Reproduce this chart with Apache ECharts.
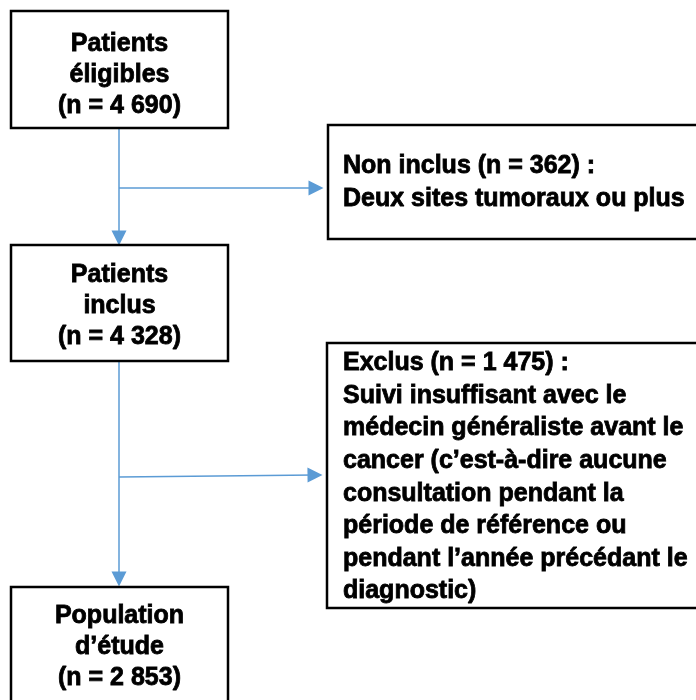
<!DOCTYPE html>
<html>
<head>
<meta charset="utf-8">
<script src="https://cdn.jsdelivr.net/npm/echarts@6/dist/echarts.min.js"></script>
<style>
html,body{margin:0;padding:0;background:#fff;}
#chart{width:696px;height:700px;}
</style>
</head>
<body>
<div id="chart"></div>
<script>
// ---- content ----
const mainStages = ['Patients\néligibles', 'Patients\ninclus', 'Population\nd’étude'];
const mainCounts = ['4 690', '4 328', '2 853'];
const exclusionTitles = ['Non inclus', 'Exclus'];
const exclusionCounts = ['362', '1 475'];
const exclusionReasons = [
  'Deux sites tumoraux ou plus',
  'Suivi insuffisant avec le\nmédecin généraliste avant le\ncancer (c’est-à-dire aucune\nconsultation pendant la\npériode de référence ou\npendant l’année précédant le\ndiagnostic)'
];

// ---- layout (chart units = px on a 696x700 canvas) ----
const mainBoxes = [[11, 11, 228, 128], [11, 245, 228, 361], [11, 587, 228, 712]];
const mainTextTop = [28.5, 259.5, 600.5];
const mainLineHeight = 31;
const sideBoxes = [[328, 125, 712, 239], [327, 343, 712, 608]];
const sideTextTop = [150, 347];
const sideLineHeights = [33, 32.6];
const sideTextX = 343;
const arrowPaths = [
  [[119, 128], [119, 238]],
  [[119, 188], [316, 188]],
  [[119, 361], [119, 579]],
  [[119, 477], [315, 475]]
];

const FONT = 'bold 25px "Liberation Sans", Arial, sans-serif';

const boxData = [];
mainBoxes.forEach((b, i) => {
  boxData.push({
    value: b,
    label: mainStages[i] + '\n(n = ' + mainCounts[i] + ')',
    align: 'center', textTop: mainTextTop[i], lh: mainLineHeight
  });
});
sideBoxes.forEach((b, i) => {
  boxData.push({
    value: b,
    label: exclusionTitles[i] + ' (n = ' + exclusionCounts[i] + ') :\n' + exclusionReasons[i],
    align: 'left', textTop: sideTextTop[i], lh: sideLineHeights[i]
  });
});

const chart = echarts.init(document.getElementById('chart'), null, {renderer: 'canvas'});
chart.setOption({
  animation: false,
  backgroundColor: '#fff',
  grid: {left: 0, right: 0, top: 0, bottom: 0},
  xAxis: {type: 'value', min: 0, max: 696, show: false},
  yAxis: {type: 'value', min: 0, max: 700, inverse: true, show: false},
  series: [
    {
      type: 'lines',
      coordinateSystem: 'cartesian2d',
      symbol: ['none', 'triangle'],
      symbolSize: 15,
      lineStyle: {color: '#5b9bd5', width: 1.5, opacity: 1},
      itemStyle: {color: '#5b9bd5'},
      z: 1,
      data: arrowPaths.map(p => ({coords: p}))
    },
    {
      type: 'custom',
      coordinateSystem: 'cartesian2d',
      z: 2,
      data: boxData.map(d => d.value),
      renderItem: function (params, api) {
        const d = boxData[params.dataIndex];
        const p0 = api.coord([api.value(0), api.value(1)]);
        const p1 = api.coord([api.value(2), api.value(3)]);
        const cx = (p0[0] + p1[0]) / 2;
        const tTop = api.coord([0, d.textTop])[1];
        const tx = d.align === 'center' ? cx : api.coord([sideTextX, 0])[0];
        return {
          type: 'group',
          children: [
            {
              type: 'rect',
              shape: {x: p0[0], y: p0[1], width: p1[0] - p0[0], height: p1[1] - p0[1]},
              style: {fill: '#fff', stroke: '#000', lineWidth: 2.5}
            },
            {
              type: 'text',
              style: {
                text: d.label,
                x: tx, y: tTop,
                font: FONT,
                fill: '#000',
                stroke: '#000',
                lineWidth: 0.8,
                align: d.align,
                verticalAlign: 'top',
                lineHeight: d.lh
              }
            }
          ]
        };
      }
    }
  ]
});
</script>
</body>
</html>
